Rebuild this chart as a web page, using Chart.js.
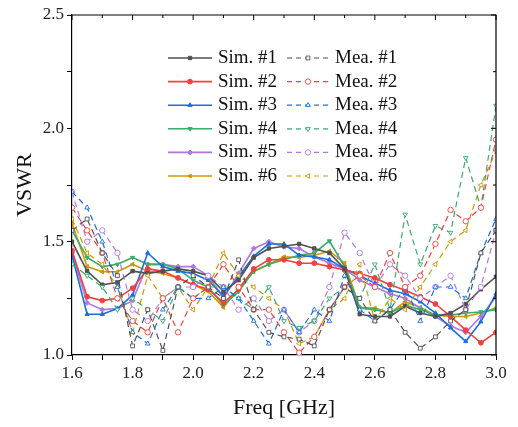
<!DOCTYPE html>
<html>
<head>
<meta charset="utf-8">
<script src="https://cdn.jsdelivr.net/npm/chart.js@4/dist/chart.umd.min.js"></script>
<style>
  html, body { margin: 0; padding: 0; background: #fff; }
  #wrap { width: 518px; height: 427px; }
</style>
</head>
<body>
<div id="wrap"><canvas id="myChart" width="518" height="427"></canvas></div>
<script>
// frequency points (GHz)
const freq = [1.6, 1.65, 1.7, 1.75, 1.8, 1.85, 1.9, 1.95, 2.0, 2.05, 2.1, 2.15, 2.2, 2.25, 2.3,
  2.35, 2.4, 2.45, 2.5, 2.55, 2.6, 2.65, 2.7, 2.75, 2.8, 2.85, 2.9, 2.95, 3.0];

// simulated VSWR
const sim1 = [1.50, 1.37, 1.31, 1.32, 1.37, 1.36, 1.37, 1.38, 1.37, 1.35, 1.28, 1.33, 1.43, 1.47, 1.48,
  1.49, 1.47, 1.45, 1.38, 1.18, 1.17, 1.17, 1.215, 1.185, 1.17, 1.185, 1.225, 1.29, 1.345];
const sim2 = [1.46, 1.257, 1.24, 1.25, 1.295, 1.38, 1.37, 1.34, 1.31, 1.29, 1.23, 1.29, 1.38, 1.42, 1.42,
  1.405, 1.405, 1.39, 1.375, 1.36, 1.34, 1.31, 1.286, 1.257, 1.225, 1.17, 1.11, 1.054, 1.10];
const sim3 = [1.44, 1.18, 1.18, 1.205, 1.264, 1.45, 1.39, 1.37, 1.36, 1.33, 1.26, 1.345, 1.436, 1.49, 1.49,
  1.44, 1.433, 1.42, 1.38, 1.35, 1.317, 1.286, 1.27, 1.235, 1.185, 1.12, 1.06, 1.147, 1.27];
const sim4 = [1.55, 1.43, 1.39, 1.40, 1.43, 1.40, 1.40, 1.38, 1.33, 1.30, 1.22, 1.28, 1.37, 1.40, 1.42,
  1.44, 1.45, 1.503, 1.39, 1.207, 1.20, 1.185, 1.22, 1.20, 1.176, 1.176, 1.185, 1.19, 1.20];
const sim5 = [1.45, 1.23, 1.20, 1.205, 1.24, 1.40, 1.40, 1.39, 1.39, 1.35, 1.25, 1.36, 1.47, 1.50, 1.477,
  1.47, 1.433, 1.405, 1.38, 1.33, 1.30, 1.27, 1.25, 1.207, 1.17, 1.128, 1.10, 1.17, 1.257];
const sim6 = [1.58, 1.39, 1.367, 1.367, 1.40, 1.37, 1.36, 1.34, 1.31, 1.28, 1.21, 1.295, 1.367, 1.40, 1.433,
  1.43, 1.44, 1.458, 1.405, 1.21, 1.207, 1.185, 1.235, 1.21, 1.176, 1.17, 1.17, 1.185, 1.207];

// measured VSWR
const mea1 = [1.55, 1.60, 1.45, 1.35, 1.04, 1.20, 1.02, 1.30, 1.35, 1.30, 1.25, 1.42, 1.20, 1.10, 1.08,
  1.07, 1.04, 1.20, 1.30, 1.25, 1.15, 1.20, 1.10, 1.03, 1.08, 1.15, 1.20, 1.45, 1.55];
const mea2 = [1.65, 1.55, 1.45, 1.25, 1.15, 1.10, 1.25, 1.10, 1.25, 1.30, 1.40, 1.30, 1.20, 1.20, 1.10,
  1.01, 1.08, 1.20, 1.30, 1.35, 1.30, 1.45, 1.30, 1.35, 1.49, 1.64, 1.59, 1.65, 1.95];
const mea3 = [1.72, 1.65, 1.50, 1.30, 1.10, 1.05, 1.20, 1.30, 1.25, 1.25, 1.30, 1.25, 1.15, 1.05, 1.20,
  1.10, 1.20, 1.15, 1.35, 1.20, 1.15, 1.20, 1.30, 1.15, 1.30, 1.30, 1.25, 1.45, 1.60];
const mea4 = [1.40, 1.35, 1.30, 1.20, 1.25, 1.20, 1.15, 1.30, 1.25, 1.30, 1.30, 1.25, 1.20, 1.30, 1.15,
  1.12, 1.15, 1.25, 1.30, 1.25, 1.40, 1.20, 1.62, 1.40, 1.57, 1.54, 1.87, 1.65, 2.10];
const mea5 = [1.72, 1.50, 1.55, 1.45, 1.20, 1.15, 1.25, 1.30, 1.30, 1.35, 1.30, 1.20, 1.25, 1.15, 1.20,
  1.10, 1.15, 1.30, 1.54, 1.45, 1.30, 1.40, 1.35, 1.25, 1.30, 1.35, 1.20, 1.30, 1.55];
const mea6 = [1.60, 1.45, 1.40, 1.30, 1.10, 1.35, 1.25, 1.30, 1.20, 1.30, 1.45, 1.35, 1.30, 1.25, 1.20,
  1.05, 1.08, 1.20, 1.25, 1.40, 1.15, 1.25, 1.20, 1.30, 1.40, 1.50, 1.55, 1.75, 1.90];

const simNames = ['Sim. #1', 'Sim. #2', 'Sim. #3', 'Sim. #4', 'Sim. #5', 'Sim. #6'];
const meaNames = ['Mea. #1', 'Mea. #2', 'Mea. #3', 'Mea. #4', 'Mea. #5', 'Mea. #6'];

const colors = ['#515151', '#F14040', '#1A6FDF', '#37AD6B', '#B177DE', '#CC9900'];
const shapes = [
  { style: 'rect', rot: 0 },
  { style: 'circle', rot: 0 },
  { style: 'triangle', rot: 0 },
  { style: 'triangle', rot: 180 },
  { style: 'rectRot', rot: 0 },
  { style: 'triangle', rot: -90 }
];
const meaShapes = [
  { style: 'rect', rot: 0 },
  { style: 'circle', rot: 0 },
  { style: 'triangle', rot: 0 },
  { style: 'triangle', rot: 180 },
  { style: 'circle', rot: 0 },
  { style: 'triangle', rot: -90 }
];

const simData = [sim1, sim2, sim3, sim4, sim5, sim6];
const meaData = [mea1, mea2, mea3, mea4, mea5, mea6];

function toPoints(arr) {
  return arr.map((v, i) => ({ x: freq[i], y: v }));
}

const datasets = [];
meaData.forEach((arr, i) => {
  datasets.push({
    label: meaNames[i],
    data: toPoints(arr),
    borderColor: colors[i],
    backgroundColor: '#fff',
    borderWidth: 1.2,
    borderDash: [6, 4],
    pointStyle: meaShapes[i].style,
    rotation: meaShapes[i].rot,
    pointRadius: 2.7,
    pointBorderWidth: 0.9,
    tension: 0
  });
});
simData.forEach((arr, i) => {
  datasets.push({
    label: simNames[i],
    data: toPoints(arr),
    borderColor: colors[i],
    backgroundColor: colors[i],
    borderWidth: 1.6,
    pointStyle: shapes[i].style,
    rotation: shapes[i].rot,
    pointRadius: 2.4,
    pointBorderWidth: 1,
    tension: 0
  });
});

const serif = "'Liberation Serif', 'Times New Roman', serif";

// frame on top/right plus inward mirror ticks, and the two-column legend
const framePlugin = {
  id: 'frame',
  afterDraw(chart) {
    const ctx = chart.ctx;
    const a = chart.chartArea;
    ctx.save();
    ctx.strokeStyle = '#000';
    ctx.lineWidth = 1.2;
    ctx.beginPath();
    ctx.moveTo(a.left, a.top);
    ctx.lineTo(a.right, a.top);
    ctx.lineTo(a.right, a.bottom);
    ctx.stroke();
    const xs = chart.scales.x, ys = chart.scales.y;
    ctx.lineWidth = 1;
    xs.ticks.forEach(t => {
      const px = xs.getPixelForValue(t.value);
      const len = t.label ? 5 : 3;
      ctx.beginPath();
      ctx.moveTo(px, a.top);
      ctx.lineTo(px, a.top + len);
      ctx.stroke();
    });
    ys.ticks.forEach(t => {
      const py = ys.getPixelForValue(t.value);
      const len = t.label ? 5 : 3;
      ctx.beginPath();
      ctx.moveTo(a.right, py);
      ctx.lineTo(a.right - len, py);
      ctx.stroke();
    });

    // legend
    const draw = Chart.helpers && Chart.helpers.drawPoint;
    ctx.font = '19px ' + serif;
    ctx.textBaseline = 'middle';
    ctx.fillStyle = '#111';
    for (let i = 0; i < 6; i++) {
      const y = 58 + i * 23.6;
      // sim entry
      ctx.setLineDash([]);
      ctx.strokeStyle = colors[i];
      ctx.lineWidth = 1.6;
      ctx.beginPath();
      ctx.moveTo(168, y);
      ctx.lineTo(212, y);
      ctx.stroke();
      if (draw) {
        ctx.fillStyle = colors[i];
        ctx.lineWidth = 1;
        draw(ctx, { pointStyle: shapes[i].style, rotation: shapes[i].rot, radius: 2.4, borderWidth: 1 }, 190, y);
      }
      ctx.fillStyle = '#111';
      ctx.fillText(simNames[i], 218, y);
      // mea entry
      ctx.setLineDash([5, 4]);
      ctx.strokeStyle = colors[i];
      ctx.lineWidth = 1.2;
      ctx.beginPath();
      ctx.moveTo(287, y);
      ctx.lineTo(329, y);
      ctx.stroke();
      ctx.setLineDash([]);
      if (draw) {
        ctx.fillStyle = '#fff';
        ctx.lineWidth = 0.9;
        draw(ctx, { pointStyle: meaShapes[i].style, rotation: meaShapes[i].rot, radius: 2.7, borderWidth: 0.9 }, 308, y);
      }
      ctx.fillStyle = '#111';
      ctx.fillText(meaNames[i], 335, y);
    }
    ctx.restore();
  }
};

function isMult(v, step) {
  const r = v / step;
  return Math.abs(r - Math.round(r)) < 1e-6;
}

const ctx1 = document.getElementById('myChart').getContext('2d');
new Chart(ctx1, {
  type: 'line',
  data: { datasets: datasets },
  options: {
    responsive: false,
    animation: false,
    layout: { padding: { top: 15, right: 22, bottom: 0, left: 0 } },
    plugins: {
      legend: { display: false },
      tooltip: { enabled: false }
    },
    elements: { line: { borderJoinStyle: 'round' } },
    scales: {
      x: {
        type: 'linear',
        min: 1.6,
        max: 3.0,
        afterFit(s) { s.height = 72; },
        border: { display: true, color: '#000', width: 1.2 },
        grid: { drawOnChartArea: false, drawTicks: true, tickLength: 5, color: '#000', tickColor: '#000' },
        ticks: {
          stepSize: 0.1,
          autoSkip: false,
          maxRotation: 0,
          padding: 3,
          color: '#222',
          font: { family: serif, size: 17 },
          callback: v => isMult(v, 0.2) ? v.toFixed(1) : ''
        },
        title: {
          display: true,
          text: 'Freq [GHz]',
          color: '#111',
          font: { family: serif, size: 22 },
          padding: { top: 0, bottom: 6 }
        }
      },
      y: {
        min: 1.0,
        max: 2.5,
        afterFit(s) { s.width = 72; },
        border: { display: true, color: '#000', width: 1.2 },
        grid: { drawOnChartArea: false, drawTicks: true, tickLength: 5, color: '#000', tickColor: '#000' },
        ticks: {
          stepSize: 0.25,
          autoSkip: false,
          padding: 3,
          color: '#222',
          font: { family: serif, size: 17 },
          callback: v => isMult(v, 0.5) ? v.toFixed(1) : ''
        },
        title: {
          display: true,
          text: 'VSWR',
          color: '#111',
          font: { family: serif, size: 22 },
          padding: { top: 12, bottom: 0 }
        }
      }
    }
  },
  plugins: [framePlugin]
});
</script>
</body>
</html>
